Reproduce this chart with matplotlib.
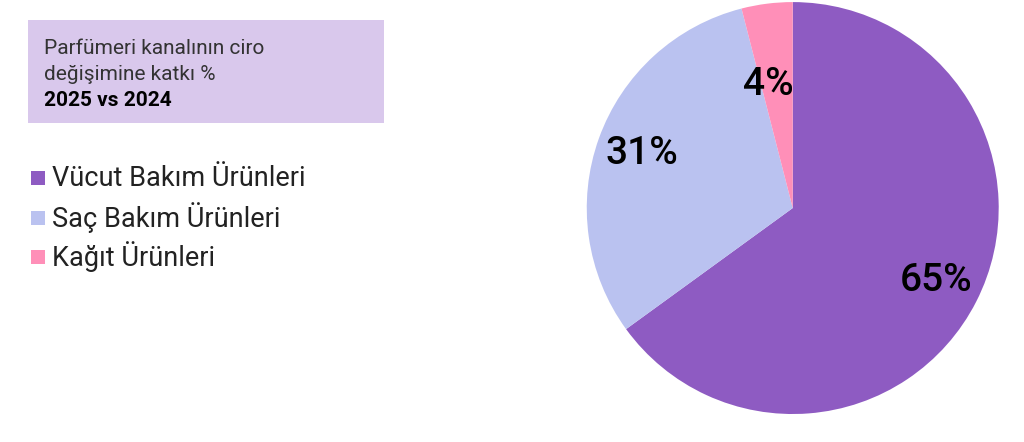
import numpy as np
import matplotlib
matplotlib.use('Agg')
import matplotlib.pyplot as plt
from matplotlib.patches import Rectangle

plt.rcParams['font.family'] = ['Roboto', 'DejaVu Sans']

# Data
categories = ['Vücut Bakım Ürünleri', 'Saç Bakım Ürünleri', 'Kağıt Ürünleri']
shares = [65, 31, 4]
colors = ['#8E5BC2', '#BAC2F0', '#FF8FB8']
title_lines = ['Parfümeri kanalının ciro', 'değişimine katkı %', '2025 vs 2024']

fig = plt.figure(figsize=(10.24, 4.42), dpi=100)

# pie
ax = fig.add_axes([0.573, 0.0633, 0.4023, 0.932])
wedges, texts, autotexts = ax.pie(
    shares, colors=colors, startangle=90, counterclock=False,
    autopct='%d%%', pctdistance=0.78, radius=1.0,
    wedgeprops=dict(linewidth=0),
    textprops=dict(fontsize=28, color='black', fontweight='medium'))
ax.set_xlim(-1, 1)
ax.set_ylim(-1, 1)
ax.set_aspect('equal')

# small slice label sits closer to the center, a little to the left
w = wedges[2]
mid = np.deg2rad((w.theta1 + w.theta2) / 2 + 4)
autotexts[2].set_position((0.61 * np.cos(mid), 0.61 * np.sin(mid)))

# title box
fig.patches.append(Rectangle((28 / 1024, 1 - 123 / 442), 356 / 1024, 103 / 442,
                             transform=fig.transFigure, facecolor='#D9C8EC',
                             edgecolor='none', zorder=0))
fig.text(44 / 1024, 1 - 48 / 442, title_lines[0], fontsize=15, color='#333333', va='center')
fig.text(44 / 1024, 1 - 75 / 442, title_lines[1], fontsize=15, color='#333333', va='center')
fig.text(44 / 1024, 1 - 101 / 442, title_lines[2], fontsize=15, color='black',
         fontweight='bold', va='center')

# legend
for i, (cat, col) in enumerate(zip(categories, colors)):
    y = 178 + i * 39.5
    fig.patches.append(Rectangle((31 / 1024, 1 - (y + 7) / 442), 14 / 1024, 14 / 442,
                                 transform=fig.transFigure, facecolor=col, edgecolor='none'))
    fig.text(52 / 1024, 1 - y / 442, cat, fontsize=19.5, color='#222222', va='center')

fig.savefig('out.png', dpi=100)
